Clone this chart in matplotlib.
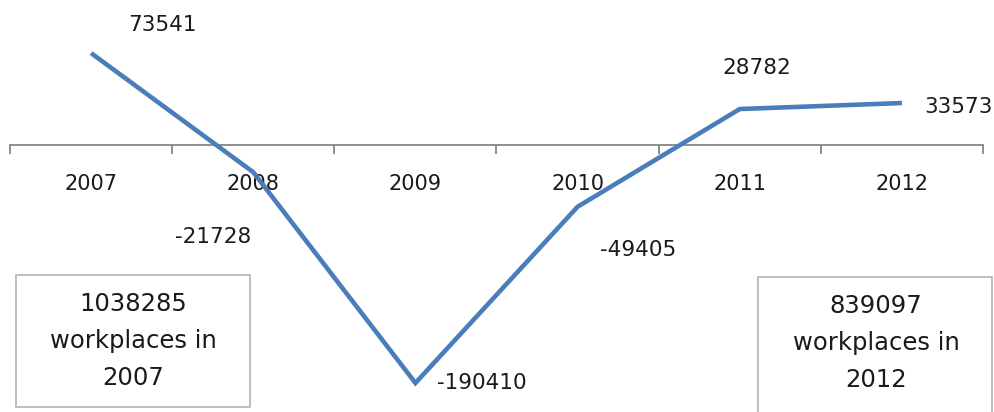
import matplotlib
matplotlib.use('Agg')
import matplotlib.pyplot as plt
from matplotlib.patches import Rectangle

# ------------------------------- data ------------------------------- #
years = ['2007', '2008', '2009', '2010', '2011', '2012']
change = [73541, -21728, -190410, -49405, 28782, 33573]
start_total = 1038285
end_total = 839097

# label offsets from each point (pixels)
label_offsets = [(71, 28), (-40, -65), (66, 0), (61, -43), (17, 41), (57, -4)]

W, H = 995, 412
fig = plt.figure(figsize=(W / 100, H / 100), dpi=100)
ax = fig.add_axes([10 / W, 1 - 395 / H, (983 - 10) / W, 375 / H])

x = list(range(len(years)))
ax.plot(x, change, color='#4a7ebb', linewidth=3.3, solid_capstyle='butt',
        solid_joinstyle='miter', zorder=3)

for xi, v, (dx, dy) in zip(x, change, label_offsets):
    ax.annotate(str(v), (xi, v), xytext=(dx, dy), textcoords='offset pixels',
                ha='center', va='center', fontsize=15.5, color='#1a1a1a')

ax.set_xlim(-0.5, len(years) - 0.5)
ax.set_ylim(-200000, 100000)

# category axis drawn through zero
for s in ['top', 'right', 'left']:
    ax.spines[s].set_visible(False)
ax.spines['bottom'].set_position(('data', 0))
ax.spines['bottom'].set_color('#868686')
ax.spines['bottom'].set_linewidth(1.3)
ax.set_yticks([])
ax.set_xticks([i - 0.5 for i in range(len(years) + 1)])
ax.set_xticklabels([])
ax.tick_params(axis='x', which='major', direction='out', length=6.5,
               width=1.3, color='#868686')
ax.set_xticks(x, minor=True)
ax.set_xticklabels(years, minor=True, fontsize=15, color='#1a1a1a')
ax.tick_params(axis='x', which='minor', length=0, pad=21)
ax.patch.set_alpha(0)

# totals boxes
boxes = [(16, 275, 234, 132), (758, 277, 234, 140)]
for bx, by, bw, bh in boxes:
    fig.patches.append(Rectangle((bx / W, 1 - (by + bh) / H), bw / W, bh / H,
                                 transform=fig.transFigure, fill=False,
                                 edgecolor='#bfbfbf', linewidth=1.4))
for cx, cy, total, yr in [(133, 341, start_total, years[0]),
                          (876, 343, end_total, years[-1])]:
    fig.text(cx / W, 1 - cy / H, f'{total}\nworkplaces in\n{yr}',
             ha='center', va='center', fontsize=17.5, color='#1a1a1a',
             linespacing=1.7)

fig.savefig('out.png', dpi=100)
